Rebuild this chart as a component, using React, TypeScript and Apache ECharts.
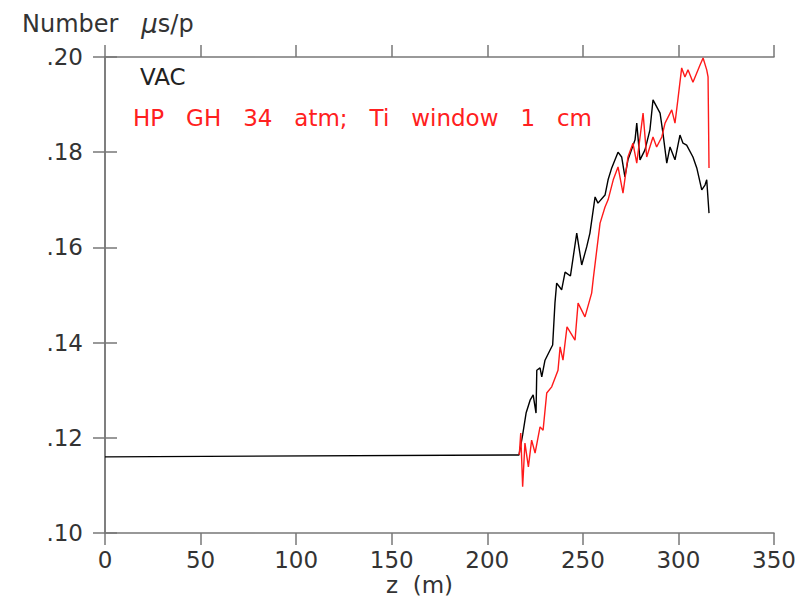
import React, { useEffect, useRef } from "react";
import * as echarts from "echarts";

// VAC series (black)
const vacZ = [0, 216.6, 218.5, 220.3, 222.4, 224.0, 225.5, 225.9, 227.6, 228.5, 230.2, 232.8, 234.2, 235.4, 236.3, 238.9, 240.7, 243.5, 246.8, 249.4, 252.0, 253.7, 256.4, 257.9, 261.6, 263.2, 265.1, 268.4, 270.3, 272.0, 273.6, 277.3, 278.2, 279.9, 282.5, 285.1, 286.7, 290.4, 291.9, 293.9, 295.6, 298.2, 300.8, 302.4, 304.3, 307.6, 309.6, 312.2, 313.9, 314.8, 316.0];
const vacV = [0.1160, 0.1164, 0.1206, 0.1252, 0.1279, 0.1290, 0.1252, 0.1342, 0.1347, 0.1328, 0.1363, 0.1384, 0.1395, 0.1483, 0.1525, 0.1511, 0.1548, 0.1540, 0.1630, 0.1563, 0.1601, 0.1630, 0.1706, 0.1693, 0.1710, 0.1742, 0.1767, 0.1800, 0.1790, 0.1748, 0.1784, 0.1826, 0.1861, 0.1784, 0.1805, 0.1847, 0.1910, 0.1882, 0.1840, 0.1777, 0.1811, 0.1784, 0.1836, 0.1819, 0.1815, 0.1790, 0.1767, 0.1721, 0.1731, 0.1742, 0.1672];

// HP GH 34 atm; Ti window 1 cm series (red)
const hpZ = [216.6, 216.8, 217.5, 218.5, 219.7, 221.5, 223.2, 225.0, 227.6, 229.2, 231.1, 233.7, 237.0, 238.1, 239.6, 241.7, 245.9, 247.5, 251.1, 254.6, 255.5, 259.0, 261.6, 263.2, 265.9, 268.4, 271.0, 273.6, 276.2, 278.2, 281.5, 283.4, 286.7, 288.6, 291.3, 293.0, 296.5, 298.2, 299.7, 301.7, 303.4, 305.0, 307.6, 311.3, 312.9, 314.8, 315.5, 316.0];
const hpV = [0.1164, 0.1168, 0.1210, 0.1097, 0.1189, 0.1139, 0.1195, 0.1168, 0.1223, 0.1216, 0.1294, 0.1307, 0.1342, 0.1391, 0.1363, 0.1433, 0.1405, 0.1483, 0.1454, 0.1504, 0.1536, 0.1651, 0.1685, 0.1700, 0.1742, 0.1769, 0.1714, 0.1790, 0.1819, 0.1777, 0.1882, 0.1790, 0.1832, 0.1811, 0.1832, 0.1861, 0.1889, 0.1861, 0.1910, 0.1977, 0.1958, 0.1973, 0.1947, 0.1983, 0.1998, 0.1973, 0.1958, 0.1767];

const xTicks = { min: 0, max: 350, interval: 50 };
const yTicks = { min: 0.10, max: 0.20, interval: 0.02 };

const GAP = "\u00A0\u00A0\u00A0";
const seriesNames = ["VAC", ["HP", "GH", "34", "atm;", "Ti", "window", "1", "cm"].join(GAP)];

const FONT = '"DejaVu Sans", sans-serif';
const AXIS_COLOR = "#777";
const TEXT_COLOR = "#333";

export default function App() {
  const ref = useRef<HTMLDivElement>(null);
  useEffect(() => {
    if (!ref.current) return;
    const chart = echarts.init(ref.current, undefined, { renderer: "svg" });
    const axisCommon = {
      type: "value" as const,
      axisLine: { show: true, lineStyle: { color: AXIS_COLOR, width: 1.5 } },
      axisTick: { show: true, inside: false, length: 12, lineStyle: { color: AXIS_COLOR, width: 1.5 } },
      splitLine: { show: false },
    };
    chart.setOption({
      animation: false,
      backgroundColor: "#fff",
      grid: { left: 105, right: 37, top: 57, bottom: 67, containLabel: false },
      xAxis: [
        {
          ...axisCommon,
          position: "bottom",
          ...xTicks,
          axisLabel: { margin: 15, fontSize: 23, color: TEXT_COLOR, fontFamily: FONT },
        },
        {
          ...axisCommon,
          position: "top",
          ...xTicks,
          axisLabel: { show: false },
        },
      ],
      yAxis: [
        {
          ...axisCommon,
          position: "left",
          ...yTicks,
          axisLabel: {
            margin: 22,
            fontSize: 23,
            color: TEXT_COLOR,
            fontFamily: FONT,
            formatter: (v: number) => v.toFixed(2).replace(/^0/, ""),
          },
        },
        {
          ...axisCommon,
          position: "right",
          ...yTicks,
          axisLabel: { show: false },
        },
      ],
      series: [
        {
          name: seriesNames[0],
          type: "line",
          data: vacZ.map((z, i) => [z, vacV[i]]),
          showSymbol: false,
          lineStyle: { color: "#000", width: 1.4 },
          z: 2,
        },
        {
          name: seriesNames[1],
          type: "line",
          data: hpZ.map((z, i) => [z, hpV[i]]),
          showSymbol: false,
          lineStyle: { color: "#ff1a1a", width: 1.4 },
          z: 3,
        },
      ],
      graphic: [
        {
          type: "text",
          x: 22,
          y: 24,
          style: {
            text: "Number\u00A0\u00A0\u00A0{i|\u03BC}s/p",
            fontSize: 24,
            fontFamily: FONT,
            fill: TEXT_COLOR,
            verticalAlign: "middle",
            rich: { i: { fontStyle: "italic", fontSize: 26, fontFamily: FONT, fill: TEXT_COLOR } },
          },
        },
        {
          type: "text",
          x: 140,
          y: 77,
          style: { text: seriesNames[0], fontSize: 23, fontFamily: FONT, fill: "#222", verticalAlign: "middle" },
        },
        {
          type: "text",
          x: 133,
          y: 118,
          style: { text: seriesNames[1], fontSize: 23, fontFamily: FONT, fill: "#ff2020", verticalAlign: "middle" },
        },
        {
          type: "text",
          x: 386,
          y: 585,
          style: { text: "z\u00A0\u00A0(m)", fontSize: 23, fontFamily: FONT, fill: TEXT_COLOR, verticalAlign: "middle" },
        },
      ],
    });
    return () => chart.dispose();
  }, []);
  return <div ref={ref} style={{ position: "absolute", left: 0, top: 0, width: 811, height: 600 }} />;
}
